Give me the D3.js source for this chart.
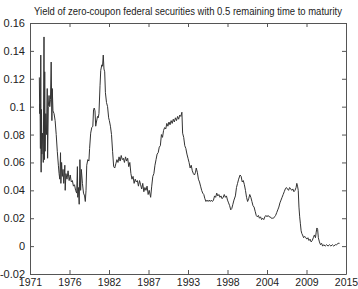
<!DOCTYPE html>
<html>
<head>
<meta charset="utf-8">
<script src="https://cdn.jsdelivr.net/npm/d3@7"></script>
<style>
  body { margin: 0; background: #fff; }
  svg { display: block; }
  .axis text { font-family: "Liberation Sans", Arial, sans-serif; font-size: 11px; fill: #222; }
  .x-axis text { font-size: 10.5px; }
  .title { font-family: "Liberation Sans", Arial, sans-serif; font-size: 10.5px; fill: #222; }
</style>
</head>
<body>
<div id="chart"></div>
<script>
// chart data
var chartTitle = "Yield of zero-coupon federal securities with 0.5 remaining time to maturity";

var yTicks = [-0.02, 0, 0.02, 0.04, 0.06, 0.08, 0.1, 0.12, 0.14, 0.16];
var yTickLabels = ["-0.02", "0", "0.02", "0.04", "0.06", "0.08", "0.1", "0.12", "0.14", "0.16"];

// x ticks are evenly spaced (datenum style), labelled by year
var xTicks = [1971, 1976.5, 1982, 1987.5, 1993, 1998.5, 2004, 2009.5, 2015];
var xTickLabels = ["1971", "1976", "1982", "1987", "1993", "1998", "2004", "2009", "2015"];

var years = [
  1972.30, 1972.35, 1972.40, 1972.45, 1972.50, 1972.55, 1972.60, 1972.65, 1972.75, 1972.85,
  1972.95, 1973.00, 1973.05, 1973.10, 1973.20, 1973.30, 1973.40, 1973.45, 1973.55, 1973.65,
  1973.75, 1973.85, 1973.95, 1974.05, 1974.10, 1974.20, 1974.35, 1974.50, 1974.65, 1974.80,
  1974.95, 1975.05, 1975.15, 1975.25, 1975.30, 1975.40, 1975.50, 1975.60, 1975.70, 1975.85,
  1975.90, 1976.00, 1976.15, 1976.30, 1976.45, 1976.60, 1976.75, 1976.90, 1977.05, 1977.20,
  1977.35, 1977.50, 1977.60, 1977.65, 1977.75, 1977.85, 1977.95, 1978.05, 1978.15, 1978.30,
  1978.45, 1978.60, 1978.70, 1978.80, 1978.90, 1979.05, 1979.20, 1979.30, 1979.45, 1979.60,
  1979.75, 1979.85, 1979.95, 1980.05, 1980.15, 1980.25, 1980.40, 1980.50, 1980.60, 1980.75,
  1980.85, 1981.00, 1981.10, 1981.20, 1981.30, 1981.40, 1981.50, 1981.65, 1981.80, 1981.95,
  1982.05, 1982.20, 1982.35, 1982.50, 1982.65, 1982.80, 1982.95, 1983.10, 1983.25, 1983.40,
  1983.55, 1983.70, 1983.85, 1984.00, 1984.15, 1984.30, 1984.45, 1984.60, 1984.75, 1984.90,
  1985.05, 1985.20, 1985.35, 1985.50, 1985.65, 1985.80, 1985.95, 1986.10, 1986.25, 1986.40,
  1986.55, 1986.70, 1986.85, 1987.00, 1987.15, 1987.30, 1987.45, 1987.60, 1987.80, 1987.95,
  1988.10, 1988.25, 1988.40, 1988.55, 1988.70, 1988.85, 1989.00, 1989.15, 1989.30, 1989.45,
  1989.60, 1989.75, 1989.90, 1990.05, 1990.20, 1990.35, 1990.50, 1990.65, 1990.80, 1990.95,
  1991.10, 1991.25, 1991.40, 1991.55, 1991.70, 1991.85, 1992.00, 1992.15, 1992.25, 1992.40,
  1992.55, 1992.70, 1992.85, 1993.00, 1993.15, 1993.30, 1993.45, 1993.60, 1993.75, 1993.90,
  1994.05, 1994.15, 1994.30, 1994.45, 1994.60, 1994.75, 1994.90, 1995.05, 1995.20, 1995.35,
  1995.50, 1995.65, 1995.80, 1995.95, 1996.10, 1996.25, 1996.40, 1996.55, 1996.70, 1996.85,
  1997.00, 1997.15, 1997.30, 1997.45, 1997.60, 1997.75, 1997.90, 1998.05, 1998.20, 1998.35,
  1998.50, 1998.65, 1998.80, 1998.95, 1999.10, 1999.25, 1999.40, 1999.60, 1999.75, 1999.90,
  2000.05, 2000.25, 2000.40, 2000.55, 2000.70, 2000.85, 2001.00, 2001.15, 2001.30, 2001.45,
  2001.60, 2001.75, 2001.90, 2002.05, 2002.20, 2002.35, 2002.50, 2002.65, 2002.80, 2002.95,
  2003.10, 2003.25, 2003.40, 2003.55, 2003.70, 2003.85, 2004.00, 2004.15, 2004.30, 2004.45,
  2004.60, 2004.75, 2004.90, 2005.05, 2005.20, 2005.35, 2005.50, 2005.65, 2005.80, 2005.95,
  2006.10, 2006.25, 2006.40, 2006.55, 2006.70, 2006.85, 2007.00, 2007.15, 2007.30, 2007.45,
  2007.60, 2007.75, 2007.90, 2008.05, 2008.15, 2008.25, 2008.35, 2008.45, 2008.55, 2008.65,
  2008.75, 2008.85, 2008.95, 2009.10, 2009.25, 2009.40, 2009.55, 2009.70, 2009.85, 2010.00,
  2010.15, 2010.30, 2010.45, 2010.60, 2010.75, 2010.85, 2010.95, 2011.05, 2011.15, 2011.30,
  2011.45, 2011.60, 2011.75, 2011.90, 2012.10, 2012.30, 2012.50, 2012.70, 2012.90, 2013.10,
  2013.30, 2013.50, 2013.70, 2013.90, 2014.10
];

var yields = [
  0.121, 0.095, 0.102, 0.070, 0.137, 0.053, 0.098, 0.066, 0.081, 0.060,
  0.150, 0.062, 0.125, 0.068, 0.095, 0.080, 0.113, 0.063, 0.100, 0.108,
  0.100, 0.105, 0.132, 0.090, 0.113, 0.097, 0.095, 0.090, 0.080, 0.068,
  0.058, 0.052, 0.048, 0.067, 0.045, 0.060, 0.050, 0.055, 0.045, 0.058,
  0.040, 0.052, 0.048, 0.054, 0.047, 0.051, 0.046, 0.047, 0.043, 0.044,
  0.040, 0.038, 0.057, 0.035, 0.042, 0.030, 0.062, 0.040, 0.055, 0.045,
  0.038, 0.036, 0.032, 0.040, 0.058, 0.062, 0.061, 0.070, 0.081, 0.085,
  0.086, 0.098, 0.099, 0.097, 0.086, 0.089, 0.093, 0.092, 0.095, 0.115,
  0.126, 0.130, 0.129, 0.137, 0.127, 0.125, 0.110, 0.103, 0.100, 0.092,
  0.090, 0.086, 0.080, 0.068, 0.057, 0.056, 0.059, 0.062, 0.060, 0.064,
  0.061, 0.065, 0.062, 0.063, 0.060, 0.064, 0.061, 0.063, 0.057, 0.060,
  0.052, 0.048, 0.050, 0.045, 0.048, 0.046, 0.047, 0.043, 0.047, 0.044,
  0.041, 0.045, 0.039, 0.042, 0.040, 0.043, 0.037, 0.040, 0.035, 0.043,
  0.050, 0.052, 0.058, 0.062, 0.066, 0.067, 0.071, 0.072, 0.080, 0.078,
  0.083, 0.085, 0.084, 0.088, 0.086, 0.089, 0.087, 0.090, 0.088, 0.091,
  0.089, 0.092, 0.090, 0.093, 0.091, 0.094, 0.093, 0.096, 0.081, 0.078,
  0.072, 0.070, 0.066, 0.063, 0.060, 0.056, 0.058, 0.054, 0.052, 0.051,
  0.053, 0.056, 0.053, 0.048, 0.046, 0.043, 0.040, 0.038, 0.037, 0.034,
  0.032, 0.033, 0.032, 0.033, 0.032, 0.033, 0.032, 0.033, 0.036, 0.035,
  0.038, 0.036, 0.037, 0.035, 0.036, 0.034, 0.035, 0.037, 0.035, 0.036,
  0.033, 0.031, 0.029, 0.026, 0.027, 0.030, 0.033, 0.036, 0.042, 0.045,
  0.048, 0.051, 0.050, 0.046, 0.047, 0.044, 0.040, 0.035, 0.032, 0.034,
  0.037, 0.035, 0.032, 0.029, 0.028, 0.025, 0.022, 0.021, 0.022, 0.020,
  0.021, 0.019, 0.020, 0.019, 0.021, 0.022, 0.021, 0.022, 0.021, 0.021,
  0.020, 0.020, 0.020, 0.021, 0.022, 0.024, 0.026, 0.028, 0.031, 0.033,
  0.035, 0.037, 0.039, 0.041, 0.042, 0.041, 0.040, 0.042, 0.041, 0.040,
  0.041, 0.039, 0.040, 0.042, 0.045, 0.043, 0.040, 0.028, 0.021, 0.016,
  0.011, 0.009, 0.008, 0.006, 0.007, 0.006, 0.005, 0.006, 0.004, 0.005,
  0.003, 0.004, 0.006, 0.008, 0.006, 0.010, 0.013, 0.012, 0.006, 0.003,
  0.001, 0.002, 0.000, 0.001, 0.000, 0.001, 0.000, 0.001, 0.000, 0.001,
  0.000, 0.001, 0.001, 0.002, 0.002
];

var data = years.map(function(y, i) { return { year: y, value: yields[i] }; });

var W = 358, H = 289;
var margin = { top: 23, right: 12, bottom: 15, left: 30 };
var width = W - margin.left - margin.right;
var height = H - margin.top - margin.bottom;
var axisColor = "#555";

var svg = d3.select("#chart").append("svg")
    .attr("width", W)
    .attr("height", H);

var g = svg.append("g")
    .attr("transform", "translate(" + margin.left + "," + margin.top + ")");

// Scales
var x = d3.scaleLinear().domain([1971, 2015]).range([0, width]);
var y = d3.scaleLinear().domain([-0.02, 0.16]).range([height, 0]);

// Axes (MATLAB style: inward ticks on all four sides)
var xAxis = d3.axisBottom(x).tickValues(xTicks)
    .tickFormat(function(d, i) { return xTickLabels[i]; })
    .tickSizeInner(-4).tickSizeOuter(0).tickPadding(6);
var yAxis = d3.axisLeft(y).tickValues(yTicks)
    .tickFormat(function(d, i) { return yTickLabels[i]; })
    .tickSizeInner(-4).tickSizeOuter(0).tickPadding(5);
var xAxisTop = d3.axisTop(x).tickValues(xTicks).tickFormat("")
    .tickSizeInner(-4).tickSizeOuter(0);
var yAxisRight = d3.axisRight(y).tickValues(yTicks).tickFormat("")
    .tickSizeInner(-4).tickSizeOuter(0);

g.append("g").attr("class", "x-axis axis")
    .attr("transform", "translate(0," + height + ")")
    .call(xAxis);
g.append("g").attr("class", "y-axis axis")
    .call(yAxis);
g.append("g").attr("class", "axis")
    .call(xAxisTop);
g.append("g").attr("class", "axis")
    .attr("transform", "translate(" + width + ",0)")
    .call(yAxisRight);

g.selectAll(".axis path, .axis line")
    .attr("stroke", axisColor)
    .attr("stroke-width", 1);

// the x labels sit tight under the axis
g.select(".x-axis").selectAll("text").attr("dy", "0.55em");

// Line
var valueLine = d3.line()
    .x(function(d) { return x(d.year); })
    .y(function(d) { return y(d.value); });

g.append("path")
    .datum(data)
    .attr("fill", "none")
    .attr("stroke", "#333")
    .attr("stroke-width", 1)
    .attr("stroke-linejoin", "round")
    .attr("d", valueLine);

// Title: the reference font is narrow, so squeeze it horizontally to ~308px
var title = svg.append("text")
    .attr("class", "title")
    .attr("text-anchor", "middle")
    .text(chartTitle);
var natural = title.node().getComputedTextLength();
var sx = Math.min(1, 308 / natural);
title.attr("transform", "translate(" + (margin.left + width / 2) + ",15) scale(" + sx + ",1)");
</script>
</body>
</html>
